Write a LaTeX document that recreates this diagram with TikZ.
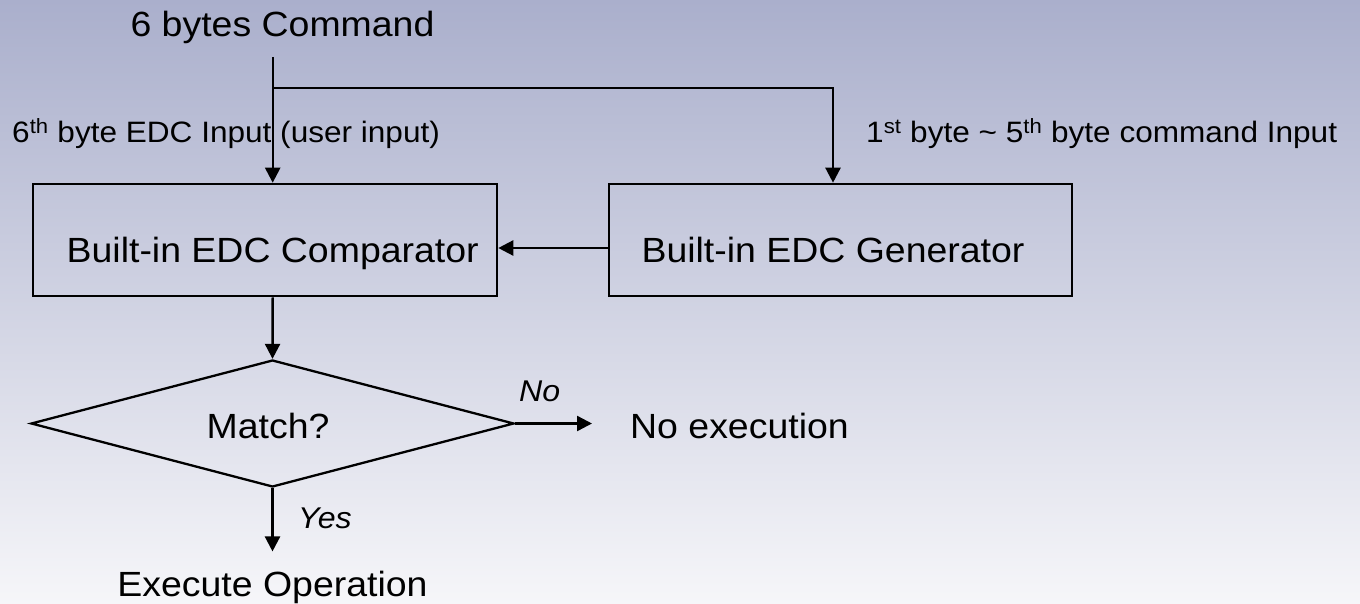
\documentclass[tikz,border=0pt]{standalone}
\usepackage{fontspec}
\setmainfont{Liberation Sans}[FakeStretch=1.07]
\usetikzlibrary{arrows.meta,shapes.geometric}
\definecolor{bgtop}{RGB}{170,175,204}
\definecolor{bgmid}{RGB}{221,222,233}
\definecolor{bgbot}{RGB}{246,246,249}
\begin{document}
\begin{tikzpicture}[x=1pt,y=-1pt,
  flow/.style={line width=2.4pt, draw=black},
  arr/.style={flow, -{Triangle[length=15pt,width=15pt]}},
  blockbox/.style={draw=black, line width=2.6pt, minimum height=112pt, inner sep=0pt},
  decision/.style={draw=black, diamond, line width=2.3pt, inner sep=0pt, aspect=3.8},
  maintext/.style={font=\fontsize{35}{42}\selectfont, inner sep=0pt},
  sidetext/.style={font=\fontsize{29.5}{36}\selectfont, inner sep=0pt},
  answer/.style={font=\fontsize{30}{36}\selectfont\itshape, inner sep=0pt}]

% background
\shade[top color=bgtop, middle color=bgmid, bottom color=bgbot] (0,0) rectangle (1360,604);
\useasboundingbox (0,0) rectangle (1360,604);

% input command and split point
\node[maintext, anchor=base] (cmd) at (282.5,37) {6 bytes Command};
\coordinate (feed) at (272.7,57);
\coordinate (split) at (272.7,88);

% blocks
\node[blockbox, minimum width=464pt] (cmp) at (265,240) {};
\node[blockbox, minimum width=463pt] (gen) at (840.5,240) {};
\node[maintext, anchor=base] (cmptxt) at (272.7,262) {Built-in EDC Comparator};
\node[maintext, anchor=base] (gentxt) at (833,262) {Built-in EDC Generator};

% decision
\node[decision, minimum width=483pt, minimum height=127pt] (dec) at (272.5,423.5) {};
\node[maintext, anchor=base] (matchtxt) at (268,438) {Match?};

% outcomes
\node[maintext, anchor=base west] (noexec) at (630,438) {No execution};
\node[maintext, anchor=base] (exec) at (272.5,596) {Execute Operation};

% input labels
\node[sidetext, anchor=base west] (edcin) at (12,143) {6\textsuperscript{th} byte EDC Input (user input)};
\node[sidetext, anchor=base west] (cmdin) at (866,143) {1\textsuperscript{st} byte \textasciitilde{} 5\textsuperscript{th} byte command Input};

% branch labels
\node[answer, anchor=base west] (nolbl) at (519,401) {No};
\node[answer, anchor=base west] (yeslbl) at (298,528) {Yes};

% connectors
\draw[arr] (feed) -- (feed |- cmp.north);
\draw[arr] (split) -| (gentxt.center |- gen.north);
\draw[arr] ([yshift=-8pt]gen.west) -- ([yshift=-8pt]cmp.east);
\draw[arr] (feed |- cmp.south) -- (dec.north);
\draw[arr, shorten >=38pt] (dec.east) -- (dec.east -| noexec.west);
\draw[arr, shorten >=19pt] (dec.south) -- (exec.north);
\end{tikzpicture}
\end{document}
